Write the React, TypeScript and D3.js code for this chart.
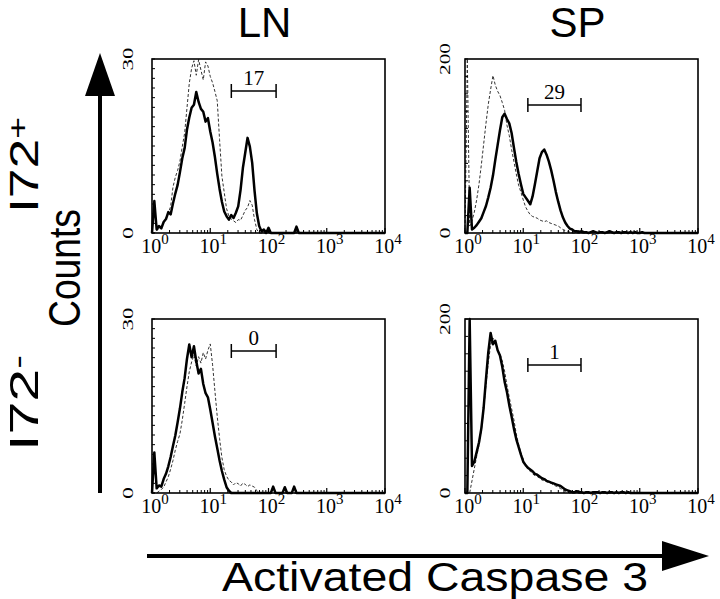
import React from "react";
import * as d3 from "d3";

// ---------- data ----------
const COLUMNS = ["LN", "SP"];
const ROW_BASE = ["I72", "I72"];
const ROW_SUP = ["+", "-"];
const Y_MAX = [30, 200];
const X_DOMAIN: [number, number] = [1, 10000];
const DECADES = [0, 1, 2, 3, 4];
const GATES = [
  [23, 135],
  [12, 98],
];
const GATE_VALUES = [
  ["17", "29"],
  ["0", "1"],
];
const LOG_STEP = 0.04; // channel width in decades

// LN, I72+
const LN_POS_SOLID = [0, 5.5, 0.6, 1.2, 0.8, 1.9, 2.4, 3.6, 3.2, 5.1, 6.8, 8.3, 10.5, 12.9, 14.6, 17.8, 19.9, 21.6, 22.1, 24.3, 22.6, 21.4, 20.9, 19.2, 19.8, 17.5, 15.6, 13.1, 10.2, 7.6, 5.4, 3.7, 2.9, 2.3, 3.1, 2.6, 3.5, 4.6, 7.4, 11.2, 13.8, 16.4, 14.9, 12.1, 7.3, 3.4, 1.2, 0.3, 0.6, 0, 0.9, 0, 0, 0, 0, 0, 0, 0, 0, 0, 0, 0, 1.1, 0];
const LN_POS_DASHED = [0, 0, 0.4, 0.8, 1.3, 1.8, 2.6, 3.4, 4.6, 7.9, 9.6, 10.8, 12.4, 14.9, 17.2, 21.5, 25.8, 28.4, 29.7, 27.2, 29.9, 28.1, 26.4, 29.5, 28.8, 27.0, 25.9, 24.4, 22.8, 16.1, 9.8, 7.0, 4.2, 2.9, 2.4, 2.1, 1.8, 2.3, 2.2, 3.0, 3.9, 4.4, 5.6, 4.8, 2.3, 0.6, 0];
// SP, I72+
const SP_POS_SOLID = [0, 0, 52, 4, 6, 9, 13, 17, 24, 31, 41, 52, 66, 84, 101, 118, 133, 137, 131, 126, 115, 98, 82, 68, 56, 45, 41, 37, 33, 42, 56, 71, 86, 93, 96, 90, 82, 72, 60, 47, 36, 26, 18, 12, 8, 5, 4, 2, 2, 1, 2, 1, 1, 0, 1, 2, 1, 0, 1, 1, 0, 1, 2, 1, 0, 1, 1, 0, 1, 1, 0, 1, 0, 1, 0, 0, 1, 0, 0];
const SP_POS_DASHED = [0, 200, 8, 14, 24, 38, 56, 78, 102, 126, 148, 165, 181, 170, 163, 158, 150, 141, 124, 112, 96, 82, 68, 55, 47, 38, 30, 25, 21, 19, 18, 17, 15, 14, 13, 14, 12, 11, 10, 9, 8, 6, 4, 3, 2, 1, 0];
// LN, I72-
const LN_NEG_SOLID = [0, 7.0, 0.8, 1.3, 1.1, 2.4, 3.3, 4.6, 6.2, 8.1, 9.9, 12.2, 14.6, 17.4, 19.8, 23.1, 25.6, 23.4, 25.3, 22.7, 20.6, 21.4, 18.8, 17.2, 16.5, 14.4, 12.1, 9.8, 7.7, 5.6, 3.8, 2.3, 1.0, 0.4, 0, 0, 0, 0, 0, 0, 0, 0, 0, 0, 0, 0, 0, 0, 0, 0, 0, 0, 1.1, 0, 0, 0, 0, 1.0, 0, 0, 0, 1.1, 0];
const LN_NEG_DASHED = [0, 0, 0, 0.3, 0.6, 1.0, 1.9, 2.8, 4.1, 5.6, 7.4, 8.9, 10.2, 12.6, 15.4, 18.3, 20.9, 22.6, 23.8, 21.9, 23.5, 22.4, 24.2, 23.1, 24.6, 25.7, 22.1, 17.6, 13.2, 9.4, 6.1, 4.0, 2.9, 2.2, 1.9, 1.4, 1.8, 1.6, 1.2, 1.7, 1.5, 1.1, 1.4, 1.2, 1.0, 0.4, 0];
// SP, I72-
const SP_NEG_SOLID = [0, 0, 200, 31, 36, 47, 58, 74, 98, 131, 162, 184, 171, 175, 164, 158, 145, 128, 116, 101, 88, 74, 62, 53, 44, 36, 32, 29, 27, 25, 22, 21, 19, 17, 16, 14, 13, 12, 11, 10, 9, 8, 6, 4, 3, 2, 1, 1, 2, 1, 1, 0, 1, 1, 0, 1, 1, 1, 0, 1, 1, 0, 1, 1, 0, 1, 0, 1, 1, 0, 1, 0, 0];
const SP_NEG_DASHED = [0, 0, 0, 14, 28, 42, 55, 72, 96, 124, 150, 170, 178, 174, 163, 160, 152, 140, 124, 110, 97, 84, 68, 56, 46, 39, 32, 27, 25, 22, 20, 19, 17, 15, 14, 13, 12, 11, 9, 8, 7, 5, 4, 2, 1, 0];

const SERIES = [
  [
    [LN_POS_SOLID, LN_POS_DASHED],
    [SP_POS_SOLID, SP_POS_DASHED],
  ],
  [
    [LN_NEG_SOLID, LN_NEG_DASHED],
    [SP_NEG_SOLID, SP_NEG_DASHED],
  ],
];

// ---------- layout ----------
const W = 720;
const H = 599;
const COL_X = [
  [152, 385],
  [465, 698],
];
const ROW_Y = [
  [59, 233],
  [319, 493],
];
const Y_TICK_DIVS = [18, 10];
const GATE_DY = [32, 46];
const YLABEL_GAP = [19, 15];
const YLABEL_LEN = [
  [23, 12],
  [32, 11],
];

const SERIF = "'Liberation Serif', 'Times New Roman', Times, serif";
const SANS = "'Liberation Sans', Arial, Helvetica, sans-serif";

type Box = { x0: number; x1: number; y0: number; y1: number };

function Panel({ box, col, row }: { box: Box; col: number; row: number }) {
  const yMax = Y_MAX[col];
  const x = d3.scaleLog().domain(X_DOMAIN).range([box.x0, box.x1]);
  const y = d3.scaleLinear().domain([0, yMax]).range([box.y1, box.y0]).clamp(true);
  const line = d3
    .line<[number, number]>()
    .x((d) => x(d[0]))
    .y((d) => y(d[1]));
  const toPts = (arr: number[]): [number, number][] => [
    ...arr.map((c, i) => [Math.pow(10, i * LOG_STEP), c] as [number, number]),
    [X_DOMAIN[1], 0],
  ];
  const [solid, dashed] = SERIES[row][col];
  const minor = DECADES.slice(0, -1).flatMap((d) => d3.range(2, 10).map((m) => m * Math.pow(10, d)));
  const major = DECADES.map((d) => Math.pow(10, d));
  const yTicks = d3.range(0, Y_TICK_DIVS[col] + 1).map((k) => (k * yMax) / Y_TICK_DIVS[col]);
  const gate = GATES[col];
  const gy = box.y0 + GATE_DY[col];
  const gx0 = x(gate[0]);
  const gx1 = x(gate[1]);
  const lblX = box.x0 - YLABEL_GAP[col];
  return (
    <g>
      <path d={line(toPts(dashed)) || ""} fill="none" stroke="#333" strokeWidth={1} strokeDasharray="3,2" />
      <path d={line(toPts(solid)) || ""} fill="none" stroke="#000" strokeWidth={2.5} strokeLinejoin="round" />
      <rect x={box.x0} y={box.y0} width={box.x1 - box.x0} height={box.y1 - box.y0} fill="none" stroke="#000" strokeWidth={1.6} />
      {minor.map((v, i) => (
        <line key={"mx" + i} x1={x(v)} x2={x(v)} y1={box.y1} y2={box.y1 - 3} stroke="#000" strokeWidth={1} />
      ))}
      {major.map((v, i) => (
        <line key={"Mx" + i} x1={x(v)} x2={x(v)} y1={box.y1} y2={box.y1 - 5} stroke="#000" strokeWidth={1.2} />
      ))}
      {yTicks.map((v, i) => (
        <line key={"y" + i} x1={box.x0} x2={box.x0 + 3} y1={y(v)} y2={y(v)} stroke="#000" strokeWidth={1} />
      ))}
      {DECADES.map((d, i) => (
        <text key={"xl" + i} x={x(Math.pow(10, d)) + 3} y={box.y1 + 20} textAnchor="middle" fontFamily={SERIF} fontSize={20} fill="#000">
          10
          <tspan dy={-9} fontSize={15}>
            {d}
          </tspan>
        </text>
      ))}
      <text transform={`translate(${lblX},${y(yMax)}) rotate(-90)`} textAnchor="middle" fontFamily={SERIF} fontSize={15} textLength={YLABEL_LEN[col][0]} lengthAdjust="spacingAndGlyphs" fill="#000">
        {yMax}
      </text>
      <text transform={`translate(${lblX},${y(0)}) rotate(-90)`} textAnchor="middle" fontFamily={SERIF} fontSize={15} textLength={YLABEL_LEN[col][1]} lengthAdjust="spacingAndGlyphs" fill="#000">
        0
      </text>
      <line x1={gx0} x2={gx1} y1={gy} y2={gy} stroke="#000" strokeWidth={1.5} />
      <line x1={gx0} x2={gx0} y1={gy - 7} y2={gy + 7} stroke="#000" strokeWidth={1.5} />
      <line x1={gx1} x2={gx1} y1={gy - 7} y2={gy + 7} stroke="#000" strokeWidth={1.5} />
      <text x={(gx0 + gx1) / 2} y={gy - 6} textAnchor="middle" fontFamily={SERIF} fontSize={21} fill="#000">
        {GATE_VALUES[row][col]}
      </text>
    </g>
  );
}

export default function App() {
  const rowCenters = [165, 403];
  return (
    <svg width={W} height={H} style={{ position: "absolute", left: 0, top: 0, background: "#fff" }}>
      <rect x={0} y={0} width={W} height={H} fill="#fff" />
      {COLUMNS.map((c, ci) => (
        <text key={c} x={(COL_X[ci][0] + COL_X[ci][1]) / 2 - 4} y={37} textAnchor="middle" fontFamily={SANS} fontSize={42} fill="#000">
          {c}
        </text>
      ))}
      {ROW_Y.map((ry, ri) =>
        COL_X.map((cx, ci) => (
          <Panel key={ri + "-" + ci} box={{ x0: cx[0], x1: cx[1], y0: ry[0], y1: ry[1] }} col={ci} row={ri} />
        ))
      )}
      {ROW_BASE.map((b, ri) => (
        <text key={"r" + ri} transform={`translate(38,${rowCenters[ri]}) rotate(-90)`} textAnchor="middle" fontFamily={SANS} fontSize={40} textLength={96} lengthAdjust="spacingAndGlyphs" fill="#000">
          {b}
          <tspan dy={-11} fontSize={28}>
            {ROW_SUP[ri]}
          </tspan>
        </text>
      ))}
      <text transform="translate(80,268) rotate(-90)" textAnchor="middle" fontFamily={SANS} fontSize={44} textLength={118} lengthAdjust="spacingAndGlyphs" fill="#000">
        Counts
      </text>
      {/* vertical arrow */}
      <line x1={100} x2={100} y1={493} y2={90} stroke="#000" strokeWidth={4} />
      <path d="M85,96 L115,96 L100,53 Z" fill="#000" />
      {/* horizontal arrow */}
      <line x1={147} x2={665} y1={556} y2={556} stroke="#000" strokeWidth={4} />
      <path d="M662,541 L662,571 L709,556 Z" fill="#000" />
      <text x={435} y={591} textAnchor="middle" fontFamily={SANS} fontSize={40} textLength={426} lengthAdjust="spacingAndGlyphs" fill="#000">
        Activated Caspase 3
      </text>
    </svg>
  );
}
